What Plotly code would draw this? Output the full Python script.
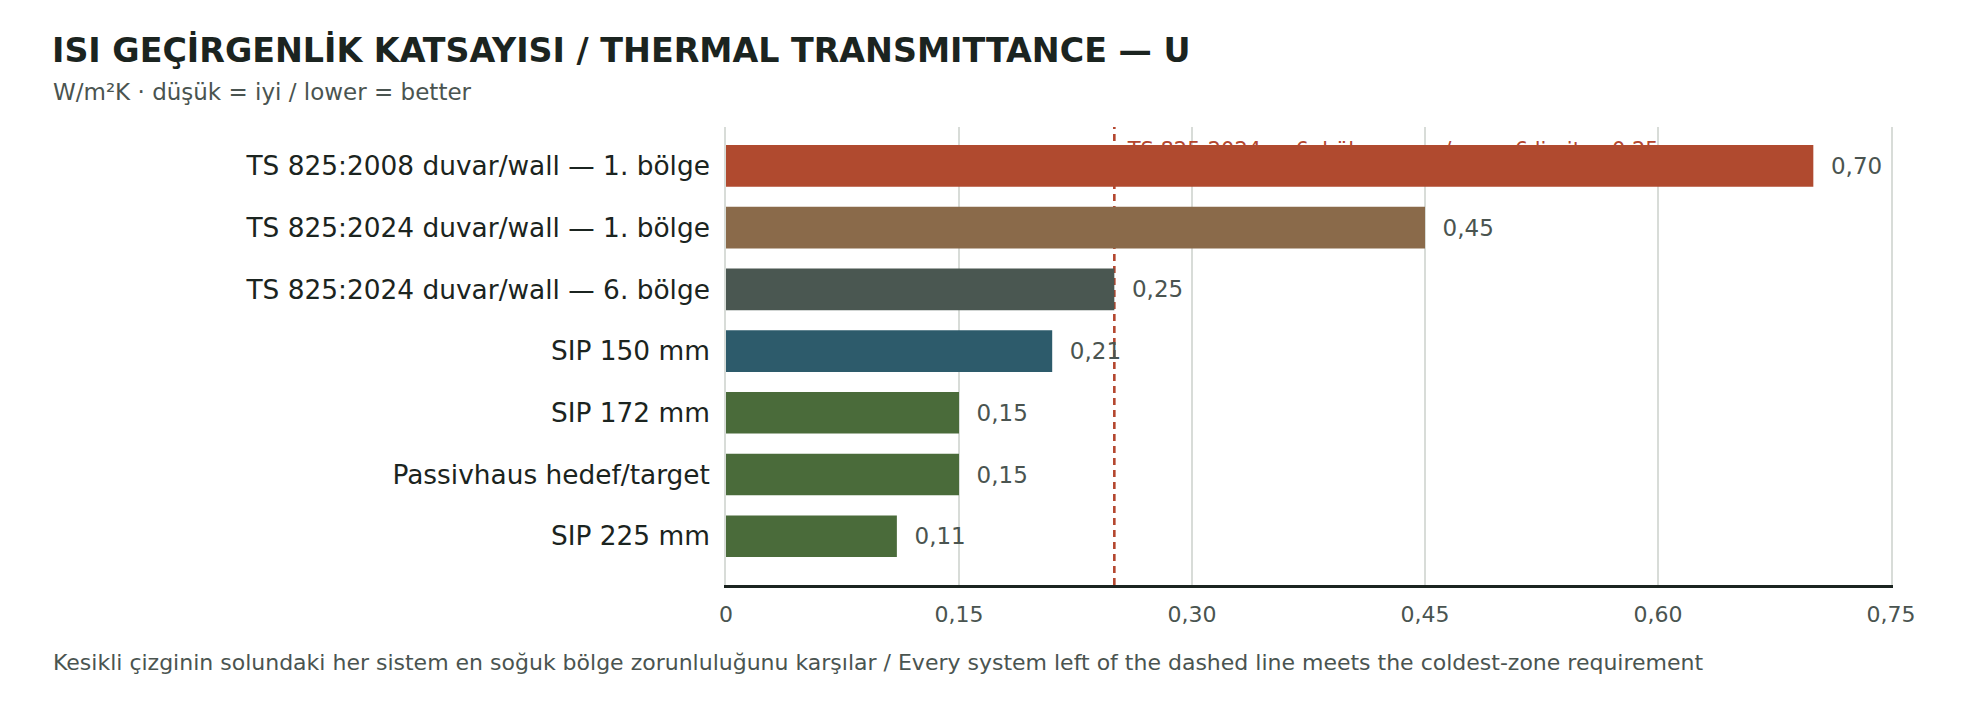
import plotly.graph_objects as go

CATEGORIES = [
    "TS 825:2008 duvar/wall — 1. bölge",
    "TS 825:2024 duvar/wall — 1. bölge",
    "TS 825:2024 duvar/wall — 6. bölge",
    "SIP 150 mm",
    "SIP 172 mm",
    "Passivhaus hedef/target",
    "SIP 225 mm",
]
U_VALUES = [0.70, 0.45, 0.25, 0.21, 0.15, 0.15, 0.11]
BAR_COLORS = ["#B04A2F", "#8A6A4A", "#4A5751", "#2D5B6B", "#4A6B3A", "#4A6B3A", "#4A6B3A"]
VALUE_LABELS = ["0,70", "0,45", "0,25", "0,21", "0,15", "0,15", "0,11"]
LIMIT = 0.25
LIMIT_LABEL = "TS 825:2024 — 6. bölge sınırı / zone 6 limit = 0,25"
TICK_VALS = [0, 0.15, 0.30, 0.45, 0.60, 0.75]
TICK_TEXT = ["0", "0,15", "0,30", "0,45", "0,60", "0,75"]

TITLE = "ISI GEÇİRGENLİK KATSAYISI / THERMAL TRANSMITTANCE — U"
SUBTITLE = "W/m²K · düşük = iyi / lower = better"
FOOTNOTE = ("Kesikli çizginin solundaki her sistem en soğuk bölge zorunluluğunu karşılar / "
            "Every system left of the dashed line meets the coldest-zone requirement")

FONT = "DejaVu Sans"
DARK = "#1B2420"
GREY = "#4A5450"
RED = "#B4462E"
GRID = "#D8DCD8"
NB = "\u00a0"

# page offset of the figure (browser body margin)
OFF = 8
W, H = 1980, 704
ML, MT = 726 - OFF, 127 - OFF
PW, PH = 1165, 458
MR, MB = W - ML - PW, H - MT - PH
Y_RANGE = [6.79, -0.63]
LABEL_RAISE = 0.225  # limit label sits just above (mostly behind) the top bar

fig = go.Figure()

# limit label (drawn under the bars, on the base subplot)
fig.add_trace(go.Scatter(
    x=[LIMIT], y=[0 - LABEL_RAISE], mode="text",
    text=[NB * 2 + LIMIT_LABEL], textposition="middle right",
    textfont=dict(family=FONT, size=21, color=RED),
    hoverinfo="skip", showlegend=False, cliponaxis=False,
    xaxis="x", yaxis="y",
))

# bars on the overlaying subplot (drawn above)
fig.add_trace(go.Bar(
    x=U_VALUES, y=CATEGORIES, orientation="h",
    marker=dict(color=BAR_COLORS, line=dict(width=0)),
    width=0.675,
    text=[NB * 2 + v for v in VALUE_LABELS], textposition="outside",
    textfont=dict(family=FONT, size=23, color=GREY),
    cliponaxis=False, hoverinfo="skip", showlegend=False,
    xaxis="x2", yaxis="y2",
))

fig.add_shape(
    type="line", xref="x", yref="paper", x0=LIMIT, x1=LIMIT, y0=0, y1=1,
    line=dict(color=RED, width=2.6, dash="7px,5px"), layer="below",
)

fig.update_layout(
    width=W, height=H,
    margin=dict(l=ML, r=MR, t=MT, b=MB),
    paper_bgcolor="white", plot_bgcolor="rgba(0,0,0,0)",
    font=dict(family=FONT, color=DARK),
    title=dict(text="<b>" + TITLE + "</b>", x=(52 - OFF) / W, xanchor="left",
               y=1 - (50 - OFF) / H, yanchor="middle", xref="container", yref="container",
               font=dict(family=FONT, size=33.3, color=DARK)),
    xaxis=dict(range=[0, 0.75], tickvals=TICK_VALS, ticktext=TICK_TEXT,
               showgrid=True, gridcolor=GRID, gridwidth=1.6, zeroline=False,
               showline=True, linecolor=DARK, linewidth=3, ticks="",
               ticklabelstandoff=8,
               tickfont=dict(family=FONT, size=22, color=GREY)),
    yaxis=dict(range=Y_RANGE, tickvals=list(range(len(CATEGORIES))), ticktext=CATEGORIES,
               showgrid=False, zeroline=False, showline=True, mirror=True,
               linecolor=GRID, linewidth=1.6, ticks="",
               ticklabelstandoff=9,
               tickfont=dict(family=FONT, size=26.4, color=DARK)),
    xaxis2=dict(overlaying="x", range=[0, 0.75], visible=False, matches="x"),
    yaxis2=dict(overlaying="y", type="category", categoryarray=CATEGORIES,
                range=Y_RANGE, visible=False),
    showlegend=False,
    annotations=[
        dict(text=SUBTITLE, xref="paper", yref="paper",
             x=(51 - OFF - ML) / PW, y=(MT + PH - (92 - OFF)) / PH,
             xanchor="left", yanchor="middle",
             showarrow=False, font=dict(family=FONT, size=23, color=GREY)),
        dict(text=FOOTNOTE, xref="paper", yref="paper",
             x=(51 - OFF - ML) / PW, y=(MT + PH - (662 - OFF)) / PH,
             xanchor="left", yanchor="middle",
             showarrow=False, font=dict(family=FONT, size=22, color=GREY)),
    ],
)

fig.write_html("out.html")
